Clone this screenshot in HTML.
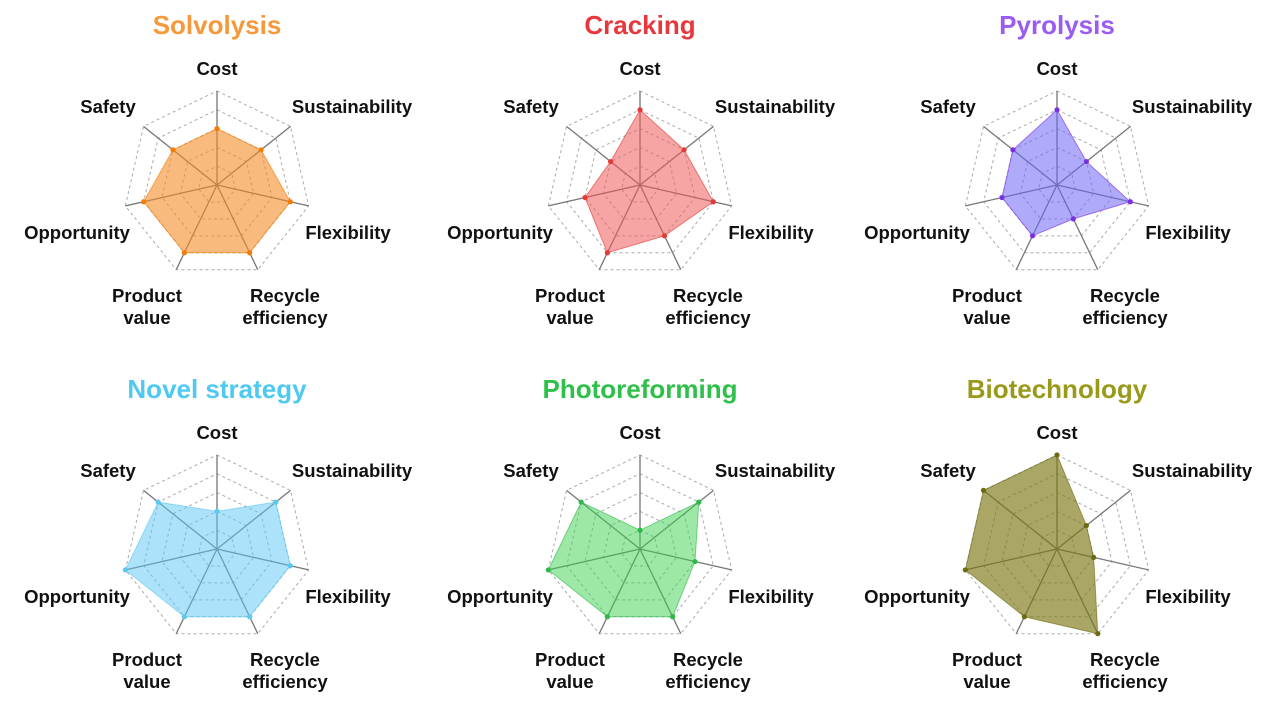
<!DOCTYPE html>
<html><head><meta charset="utf-8"><style>
html,body{margin:0;padding:0;background:#fff;}
svg{display:block;font-family:"Liberation Sans",Arial,sans-serif;}
</style></head><body>
<svg id="chart" width="1269" height="706" viewBox="0 0 1269 706"></svg>
<script>
const axes = ["Cost","Sustainability","Flexibility","Recycle efficiency","Product value","Opportunity","Safety"];
const titles = ["Solvolysis","Cracking","Pyrolysis","Novel strategy","Photoreforming","Biotechnology"];
const solvolysis = [3,3,4,4,4,4,3];
const cracking = [4,3,4,3,4,3,2];
const pyrolysis = [4,2,4,2,3,3,3];
const novelStrategy = [2,4,4,4,4,5,4];
const photoreforming = [1,4,3,4,4,5,4];
const biotechnology = [5,2,2,5,4,5,5];
const maxValue = 5;
const series = [solvolysis,cracking,pyrolysis,novelStrategy,photoreforming,biotechnology];
const titleColors = ["#f5993a","#e8383d","#9b5cf6","#4fc9f2","#2ec04a","#9a9a1a"];
const fills = ["rgba(245,140,40,0.6)","rgba(240,90,90,0.55)","rgba(110,100,245,0.55)","rgba(90,200,245,0.5)","rgba(60,210,80,0.5)","rgba(125,120,20,0.65)"];
const dots = ["#f57c00","#e53935","#7b2fe4","#5bc8f0","#2db84a","#6b6a10"];
const centers = [[217,185],[640,185],[1057,185],[217,549],[640,549],[1057,549]];
const R = 94;
const NS="http://www.w3.org/2000/svg";
const svg=document.getElementById('chart');
function mk(tag,attrs,parent){const e=document.createElementNS(NS,tag);for(const k in attrs)e.setAttribute(k,attrs[k]);(parent||svg).appendChild(e);return e;}
function pt(cx,cy,i,r){const a=i*2*Math.PI/axes.length;return [cx+r*Math.sin(a),cy-r*Math.cos(a)];}
const slug=s=>s.toLowerCase().replace(/ /g,'-');
const labelPos=[[0,-110,1],[135,-72,1],[131,54,1],[68,117,2],[-70,117,2],[-140,54,1],[-109,-72,1]];
series.forEach((vals,k)=>{
  const [cx,cy]=centers[k];
  const g=mk('g',{});
  
  
  const t=mk('text',{x:cx,y:cy-151,'text-anchor':'middle','font-size':26,'font-weight':'bold',fill:titleColors[k]},g);
  t.textContent=titles[k];
  
  
  for(let l=1;l<=maxValue;l++){
    const pts=axes.map((_,i)=>pt(cx,cy,i,R*l/maxValue).join(',')).join(' ');
    const p=mk('polygon',{points:pts,fill:'none',stroke:'#aaa','stroke-width':1,'stroke-dasharray':'3,3'},g);
    
    
  }
  axes.forEach((a,i)=>{
    const [x,y]=pt(cx,cy,i,R);
    const ln=mk('line',{x1:cx,y1:cy,x2:x,y2:y,stroke:'#777','stroke-width':1.3},g);
    
    
  });
  const poly=vals.map((v,i)=>pt(cx,cy,i,R*v/maxValue).join(',')).join(' ');
  const pg=mk('polygon',{points:poly,fill:fills[k],stroke:dots[k],'stroke-width':1,'stroke-opacity':0.6},g);
  
  
  vals.forEach((v,i)=>{
    const [x,y]=pt(cx,cy,i,R*v/maxValue);
    const c=mk('circle',{cx:x,cy:y,r:2.6,fill:dots[k]},g);
    
    
  });
  axes.forEach((a,i)=>{
    const [dx,dy,lines]=labelPos[i];
    const tx=mk('text',{x:cx+dx,y:cy+dy,'text-anchor':'middle','font-size':18.5,'font-weight':'bold',fill:'#111'},g);
    
    
    if(lines===2){
      const w=a.split(' ');
      const s1=mk('tspan',{x:cx+dx,dy:0},tx);s1.textContent=w[0];
      const s2=mk('tspan',{x:cx+dx,dy:22},tx);s2.textContent=w[1];
    } else tx.textContent=a;
  });
});
</script>
</body></html>
